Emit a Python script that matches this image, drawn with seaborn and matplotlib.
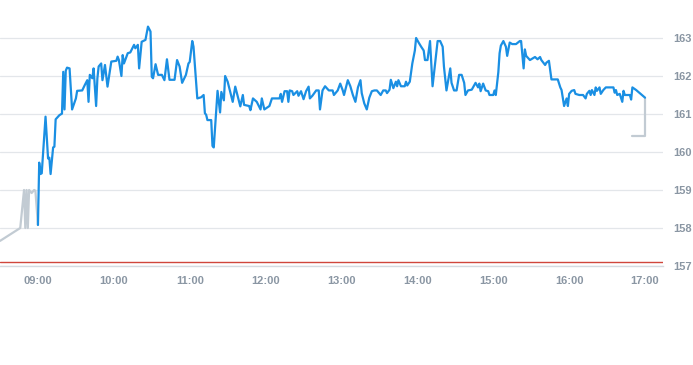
import matplotlib
matplotlib.use("Agg")
import matplotlib.pyplot as plt
import seaborn as sns
import pandas as pd

# minutes after 09:00
pre_min = [-30, -14, -11, -10, -9, -8, -7, -5, -3, -2, 0]
pre_val = [157.66, 158.00, 159.00, 158.00, 159.00, 158.00, 159.00, 158.92, 159.00, 158.98, 158.08]

day_min = [0, 1, 2, 3, 6, 8, 9, 10, 12, 13, 14, 17, 19, 20, 21, 22, 23, 25, 27, 30,
           31, 35, 37, 39, 40, 41, 43, 44, 46, 47, 48, 50, 51, 53, 55, 58, 62, 63, 64, 66,
           67, 68, 70, 71, 73, 76, 77, 79, 80, 82, 85, 87, 89, 90, 91, 93, 95, 98, 100, 102,
           104, 108, 110, 112, 114, 117, 119, 120, 122, 123, 126, 129, 131, 132, 133, 134, 137, 138, 139, 142,
           144, 145, 147, 148, 150, 154, 156, 160, 162, 163, 167, 168, 170, 173, 176, 177, 179, 183, 185, 191,
           192, 193, 195, 197, 198, 199, 201, 202, 205, 206, 208, 210, 212, 214, 215, 217, 220, 222, 223, 225,
           227, 230, 233, 234, 237, 239, 241, 242, 245, 247, 249, 251, 253, 255, 256, 258, 260, 262, 264, 266,
           268, 271, 273, 275, 276, 278, 279, 281, 283, 284, 285, 287, 290, 291, 292, 294, 296, 298, 299, 301,
           303, 305, 306, 308, 310, 311, 312, 314, 316, 318, 320, 321, 323, 326, 327, 329, 331, 333, 335, 337,
           338, 340, 343, 346, 348, 349, 350, 352, 354, 356, 357, 360, 361, 362, 364, 365, 366, 368, 370, 371,
           373, 375, 378, 381, 382, 384, 385, 386, 389, 393, 395, 397, 398, 401, 402, 404, 406, 408, 411, 413,
           414, 416, 418, 419, 420, 422, 424, 425, 428, 431, 433, 434, 436, 437, 438, 440, 441, 442, 444, 445,
           447, 449, 455, 456, 457, 458, 460, 462, 463, 464, 468, 469, 470, 473, 480]
day_val = [158.08, 159.72, 159.42, 159.44, 160.93, 159.83, 159.85, 159.42, 160.12, 160.14, 160.86, 160.97, 161.01, 162.11, 161.12, 162.14, 162.22, 162.20, 161.12, 161.41,
           161.61, 161.62, 161.76, 161.89, 161.32, 162.03, 161.94, 162.20, 161.21, 161.94, 162.25, 162.33, 161.89, 162.29, 161.72, 162.38, 162.40, 162.51, 162.42, 162.00,
           162.55, 162.33, 162.51, 162.60, 162.62, 162.82, 162.73, 162.82, 162.20, 162.90, 162.95, 163.30, 163.17, 161.98, 161.94, 162.31, 162.03, 162.03, 161.89, 162.44,
           161.90, 161.90, 162.42, 162.25, 161.82, 162.03, 162.33, 162.37, 162.92, 162.77, 161.41, 161.44, 161.50, 161.02, 160.98, 160.84, 160.84, 160.16, 160.12, 161.61,
           161.04, 161.58, 161.36, 162.00, 161.85, 161.32, 161.72, 161.20, 161.50, 161.24, 161.21, 161.10, 161.41, 161.32, 161.12, 161.41, 161.12, 161.21, 161.41, 161.41,
           161.53, 161.32, 161.60, 161.60, 161.32, 161.62, 161.60, 161.50, 161.60, 161.48, 161.60, 161.39, 161.60, 161.72, 161.41, 161.48, 161.62, 161.62, 161.12, 161.62,
           161.73, 161.62, 161.62, 161.50, 161.62, 161.80, 161.62, 161.50, 161.89, 161.73, 161.50, 161.32, 161.70, 161.89, 161.55, 161.28, 161.12, 161.43, 161.60, 161.62,
           161.62, 161.50, 161.62, 161.62, 161.55, 161.64, 161.90, 161.68, 161.85, 161.73, 161.89, 161.73, 161.73, 161.85, 161.75, 161.85, 162.33, 162.67, 163.00, 162.88,
           162.77, 162.67, 162.42, 162.42, 162.92, 162.33, 161.73, 162.33, 162.92, 162.92, 162.77, 162.25, 161.62, 162.20, 161.82, 161.62, 161.62, 162.03, 162.03, 161.82,
           161.50, 161.62, 161.64, 161.82, 161.70, 161.80, 161.60, 161.80, 161.62, 161.60, 161.50, 161.50, 161.62, 161.50, 162.10, 162.60, 162.80, 162.92, 162.77, 162.53,
           162.88, 162.84, 162.84, 162.92, 162.92, 162.20, 162.70, 162.53, 162.42, 162.50, 162.44, 162.50, 162.42, 162.29, 162.35, 162.40, 161.91, 161.91, 161.91, 161.70,
           161.63, 161.21, 161.41, 161.21, 161.53, 161.61, 161.63, 161.53, 161.50, 161.50, 161.41, 161.53, 161.61, 161.50, 161.63, 161.50, 161.70, 161.61, 161.70, 161.53,
           161.63, 161.70, 161.70, 161.56, 161.63, 161.50, 161.53, 161.32, 161.61, 161.50, 161.50, 161.38, 161.70, 161.63, 161.43]

post_min = [480, 480, 470]
post_val = [161.43, 160.42, 160.42]

prev_close = 157.11
x_ticks = ["09:00", "10:00", "11:00", "12:00", "13:00", "14:00", "15:00", "16:00", "17:00"]
y_ticks = [157, 158, 159, 160, 161, 162, 163]

def to_h(mins):
    return [9 + m / 60 for m in mins]

pre = pd.DataFrame({"t": to_h(pre_min), "p": pre_val})
day = pd.DataFrame({"t": to_h(day_min), "p": day_val})
post = pd.DataFrame({"t": to_h(post_min), "p": post_val})

sns.set_theme(style="white")
plt.rcParams["font.family"] = ["Liberation Sans", "DejaVu Sans"]

fig = plt.figure(figsize=(6.93, 3.65), dpi=100)
ax = fig.add_axes([0, (365 - 266) / 365, 663 / 693, 266 / 365])

grey = "#c2cbd3"
blue = "#1a8fe3"
sns.lineplot(data=pre, x="t", y="p", ax=ax, color=grey, lw=1.6, sort=False, estimator=None)
sns.lineplot(data=post, x="t", y="p", ax=ax, color=grey, lw=1.6, sort=False, estimator=None)
sns.lineplot(data=day, x="t", y="p", ax=ax, color=blue, lw=1.6, sort=False, estimator=None)
ax.axhline(prev_close, color="#d0463c", lw=1.0, zorder=1)

ax.set_xlim(8.5, 17 + 14.2 / 60)
ax.set_ylim(157, 164)
ax.set_yticks(y_ticks)
ax.set_yticklabels([str(v) for v in y_ticks])
ax.set_xticks([9 + i for i in range(len(x_ticks))])
ax.set_xticklabels(x_ticks)
ax.grid(axis="y", color="#e3e6ea", lw=0.9)
ax.grid(axis="x", visible=False)
ax.set_xlabel("")
ax.set_ylabel("")
for s in ["top", "left", "right"]:
    ax.spines[s].set_visible(False)
ax.spines["bottom"].set_color("#d5dae0")
ax.spines["bottom"].set_linewidth(1.0)
ax.yaxis.tick_right()
ax.tick_params(axis="y", length=0, pad=7.5, labelsize=8, labelcolor="#8a96a3")
ax.tick_params(axis="x", length=4, width=0.8, color="#d5dae0", pad=3, labelsize=8, labelcolor="#8a96a3")
for lab in ax.get_xticklabels() + ax.get_yticklabels():
    lab.set_fontweight("bold")
ax.set_facecolor("white")

fig.savefig("out.png", dpi=100, facecolor="white")
